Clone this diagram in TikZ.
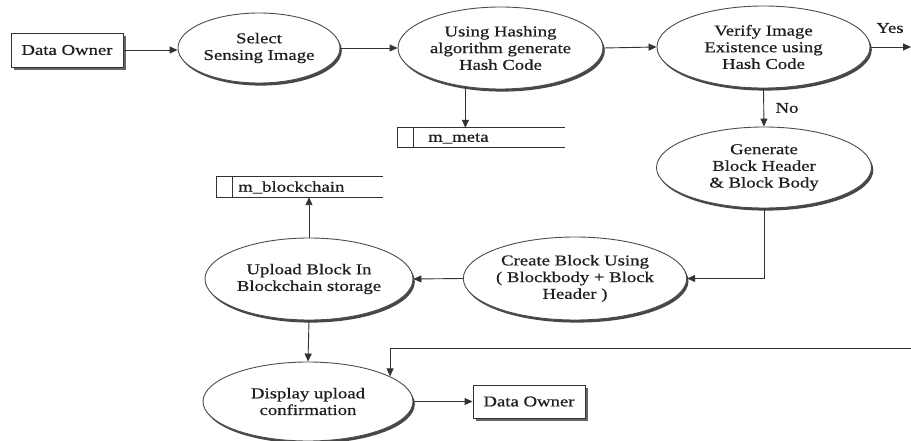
\documentclass[tikz,border=0pt]{standalone}
\usepackage{fontspec}
\setmainfont{Liberation Serif}[FakeStretch=1.25,FakeBold=0.6]
\usetikzlibrary{shapes.geometric,arrows.meta,calc}
\begin{document}
\begin{tikzpicture}[x=1pt,y=-1pt,
  every node/.style={font=\fontsize{15pt}{16.7pt}\selectfont, text=black!88},
  proc/.style={ellipse, draw=black!70, line width=0.9pt, fill=white, inner sep=0pt, align=center,
    preaction={fill=black!72, transform canvas={shift={(1.8pt,-2.6pt)}}}},
  ent/.style={rectangle, draw=black!80, line width=0.9pt, fill=white, inner sep=0pt,
    preaction={fill=black!60, transform canvas={shift={(3pt,-3pt)}}}},
  store/.style={rectangle, inner sep=0pt, draw=none},
  ln/.style={draw=black!80, line width=0.9pt},
  arr/.style={ln, -{Triangle[length=8pt,width=7pt]}},
  lbl/.style={inner sep=0pt}]
\useasboundingbox (0,0) rectangle (911,441);
% processes and entities
\node[ent, minimum width=112pt, minimum height=34pt] (own1) at (67,50) {Data Owner};
\node[proc, minimum width=162pt, minimum height=70pt] (sel) at (259,48) {Select\\Sensing Image};
\node[proc, minimum width=205pt, minimum height=82pt] (hash) at (500.5,48) {Using Hashing\\algorithm generate\\Hash Code};
\node[proc, minimum width=213pt, minimum height=82pt] (ver) at (763.5,47) {Verify Image\\Existence using\\Hash Code};
\node[proc, minimum width=215pt, minimum height=81pt] (gen) at (764,167.5) {Generate\\Block Header\\\& Block Body};
\node[proc, minimum width=214pt, minimum height=83pt] (cre) at (575,278.5) {Create Block Using\\( Blockbody + Block\\Header )};
\node[proc, minimum width=208pt, minimum height=82pt] (upl) at (309,279) {Upload Block In\\Blockchain storage};
\node[proc, minimum width=210pt, minimum height=79pt] (disp) at (308,401.5) {Display upload\\confirmation};
\node[ent, minimum width=112pt, minimum height=33pt] (own2) at (529,401.5) {Data Owner};
% data stores
\node[store, minimum width=167pt, minimum height=19pt] (meta) at (481.5,137.5) {};
\node[lbl, anchor=west] (metat) at (428,138.5) {m\_meta};
\node[store, minimum width=166pt, minimum height=20pt] (chain) at (300,187) {};
\node[lbl, anchor=west] (chaint) at (238,187.5) {m\_blockchain};
\foreach \s in {meta,chain}{
  \draw[ln] (\s.north east) -- (\s.north west) -- (\s.south west) -- (\s.south east);
  \draw[ln] ($(\s.north west)+(15.5,0)$) -- ($(\s.south west)+(15.5,0)$);
}
% labels
\node[lbl] (yes) at (890,28) {Yes};
\node[lbl] (no) at (787,108) {No};
% connectors
\coordinate (yesend) at (911,47);
\coordinate (fb) at (911,348);
\draw[arr] (own1.east) -- (own1.east -| sel.west);
\draw[arr] (sel.east) -- (hash.west);
\draw[arr] (hash.east) -- (ver.west);
\draw[arr] (ver.east) -- (yesend);
\draw[arr] (hash.-132.3) -- (hash.-132.3 |- meta.north);
\draw[arr] (ver.south) -- (gen.north);
\draw[arr] (gen.south) |- (cre.east);
\draw[arr] (cre.west) -- (upl.east);
\draw[arr] (upl.north) -- (upl.north |- chain.south);
\draw[arr] (upl.south) -- (disp.north);
\draw[arr] (fb) -| (disp.17.2);
\draw[arr] (disp.east) -- (own2.west);
\end{tikzpicture}
\end{document}
